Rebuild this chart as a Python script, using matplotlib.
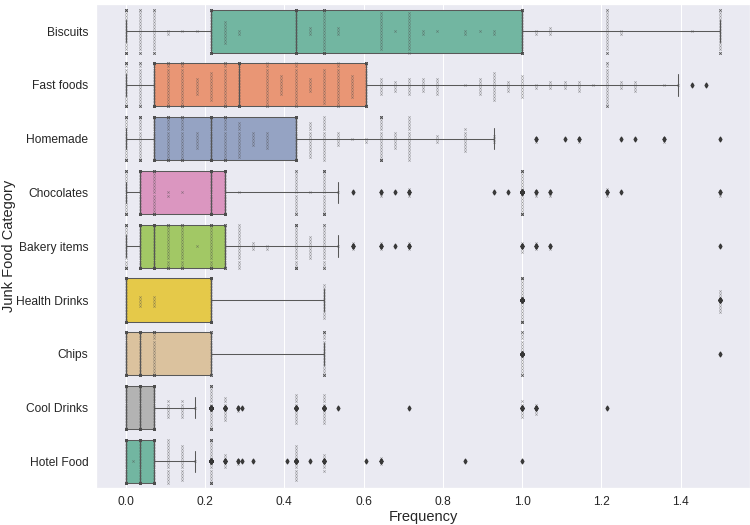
import numpy as np
import pandas as pd
import matplotlib
matplotlib.use('Agg')
import matplotlib.pyplot as plt
import seaborn as sns
import warnings
warnings.filterwarnings('ignore')  # swarmplot complains about points it cannot place

sns.set_theme(style='darkgrid')
plt.rcParams['font.family'] = ['Liberation Sans', 'DejaVu Sans']

# categories, top to bottom
categories = ['Biscuits', 'Fast foods', 'Homemade', 'Chocolates', 'Bakery items',
              'Health Drinks', 'Chips', 'Cool Drinks', 'Hotel Food']

# frequency values, with how many answers sit on each value
biscuits_vals = [0, .036, .071, .107, .143, .179, .214, .25, .286, .429, .464, .5, .536, .643,
                 .679, .714, .75, .786, .857, .893, .929, 1.0, 1.036, 1.071, 1.214, 1.25, 1.429, 1.5]
biscuits_counts = [30, 18, 20, 2, 1, 1, 40, 8, 2, 45, 3, 30, 3, 13,
                   1, 14, 2, 1, 2, 1, 2, 40, 2, 3, 18, 2, 1, 20]

fastfood_vals = [0, .036, .071, .107, .143, .179, .214, .25, .286, .357, .393, .429, .464, .5,
                 .536, .571, .607, .643, .679, .714, .75, .786, .857, .893, .929, .964, 1.0,
                 1.036, 1.071, 1.107, 1.143, 1.179, 1.214, 1.25, 1.286, 1.357, 1.393, 1.429, 1.464]
fastfood_counts = [30, 20, 70, 20, 20, 6, 10, 20, 40, 16, 7, 16, 5, 12,
                   16, 8, 40, 6, 4, 6, 5, 6, 1, 6, 10, 4, 8,
                   2, 3, 3, 4, 1, 18, 3, 4, 1, 1, 1, 1]

homemade_vals = [0, .036, .071, .107, .143, .179, .214, .25, .286, .321, .357, .429, .464, .5, .536,
                 .571, .607, .643, .679, .714, .786, .857, .929, 1.036, 1.107, 1.143, 1.25, 1.286,
                 1.357, 1.5]
homemade_counts = [30, 30, 60, 25, 22, 6, 60, 25, 12, 5, 6, 59, 12, 15, 5,
                   1, 2, 30, 6, 15, 3, 8, 3, 2, 1, 2, 1, 1,
                   2, 1]

chocolates_vals = [0, .036, .071, .107, .143, .214, .25, .286, .429, .464, .5, .536, .573, .643,
                   .679, .714, .929, .964, 1.0, 1.036, 1.071, 1.214, 1.25, 1.5]
chocolates_counts = [30, 80, 30, 2, 1, 70, 105, 1, 20, 1, 30, 1, 1, 2,
                     1, 3, 1, 1, 30, 2, 2, 3, 1, 2]

bakery_vals = [0, .036, .071, .107, .143, .179, .214, .25, .286, .321, .357, .429, .464, .5, .536,
               .573, .643, .679, .714, 1.0, 1.036, 1.071, 1.5]
bakery_counts = [30, 75, 100, 22, 22, 1, 30, 26, 15, 3, 2, 30, 8, 20, 1,
                 3, 3, 1, 3, 4, 3, 2, 1]

health_vals = [0, .036, .071, .214, .5, 1.0, 1.5]
health_counts = [70, 4, 4, 92, 12, 30, 8]

chips_vals = [0, .036, .071, .214, .5, 1.0, 1.5]
chips_counts = [58, 50, 30, 26, 25, 20, 1]

cooldrinks_vals = [0, .036, .071, .107, .143, .175, .214, .25, .283, .293, .429, .5, .536, .714,
                   1.0, 1.036, 1.214]
cooldrinks_counts = [100, 90, 83, 6, 6, 1, 30, 8, 2, 1, 10, 10, 1, 1,
                     6, 4, 1]

hotel_vals = [0, .018, .036, .071, .107, .143, .175, .214, .25, .283, .293, .321, .407, .429,
              .464, .5, .607, .643, .857, 1.0]
hotel_counts = [100, 1, 100, 89, 15, 12, 1, 30, 5, 2, 1, 1, 1, 12,
                1, 6, 1, 3, 1, 1]

all_vals = [biscuits_vals, fastfood_vals, homemade_vals, chocolates_vals, bakery_vals,
            health_vals, chips_vals, cooldrinks_vals, hotel_vals]
all_counts = [biscuits_counts, fastfood_counts, homemade_counts, chocolates_counts, bakery_counts,
              health_counts, chips_counts, cooldrinks_counts, hotel_counts]

# long format table, one row per answer
rows = []
for cat, vals, counts in zip(categories, all_vals, all_counts):
    for v, c in zip(vals, counts):
        rows += [(cat, v)] * c
df = pd.DataFrame(rows, columns=['Category', 'Frequency'])

fig, ax = plt.subplots(figsize=(10, 7), dpi=75)

sns.boxplot(data=df, x='Frequency', y='Category', hue='Category', order=categories,
            palette='Set2', legend=False, linewidth=1, fliersize=3.5,
            flierprops=dict(marker='d', markerfacecolor='0.2', markeredgecolor='0.2'), ax=ax)
sns.swarmplot(data=df, x='Frequency', y='Category', order=categories, color='0.3',
              marker='x', size=2.2, linewidth=0.6, alpha=0.55, ax=ax)

ax.set_xlabel('Frequency', fontsize=14, labelpad=2)
ax.set_ylabel('Junk Food Category', fontsize=14, labelpad=0)
ax.tick_params(labelsize=11.5, pad=1.5)

fig.subplots_adjust(left=0.128, right=1.0, top=0.992, bottom=0.07)
fig.savefig('out.png', dpi=75)
